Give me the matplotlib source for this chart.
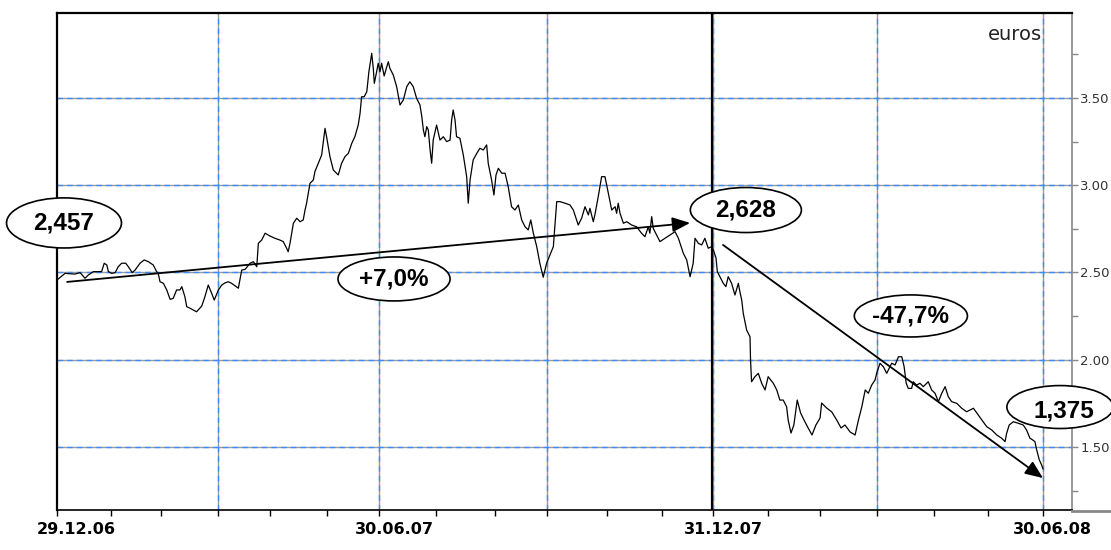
import matplotlib
matplotlib.use("Agg")
import matplotlib.pyplot as plt
import matplotlib.transforms as mtransforms
from matplotlib.patches import Ellipse
from matplotlib.lines import Line2D

# share price in euros, x = trading sessions counted from 29.12.06
sessions = [
    0, 3.1, 6.9, 8.9, 10.8, 12.1, 14.0, 15.3, 17.2, 18.2, 19.2, 19.8, 21.1, 22.4,
    23.6, 24.9, 26.5, 27.5, 29.0, 30.1, 32.0, 33.6, 35.2, 37.1, 38.4, 39.0, 39.7,
    41.0, 42.3, 43.6, 44.8, 46.1, 47.4, 48.1, 49.3, 50.0, 51.3, 52.5, 53.8, 55.8,
    57.0, 58.3, 59.6, 60.6, 62.2, 63.5, 64.7, 66.0,
    67.3, 69.9, 71.2, 72.5, 74.4, 75.7, 77.0, 77.6, 78.9, 80.2, 82.1, 84.0, 85.9,
    87.2, 88.5, 89.1, 89.8, 91.1, 92.4, 93.7, 94.9, 95.6, 96.2, 97.5, 98.8, 99.4,
    100.7, 102.0, 103.3, 103.9, 105.2, 106.5, 108.4, 109.7, 111.0, 112.3, 113.6,
    114.8, 116.1, 116.8, 117.4, 118.4, 119.4, 120.2, 121.3, 121.9, 122.3, 123.2,
    123.8, 124.5, 125.1, 126.1, 127.1, 127.7, 128.3,
    129.6, 130.9, 132.2, 133.5, 134.8, 136.0, 137.3, 138.6, 139.9, 140.6, 141.2,
    141.8, 142.5, 143.1, 143.8, 144.4, 145.0, 146.3, 147.6, 148.9, 150.2, 151.5,
    152.1, 152.7, 153.4, 154.0, 155.3, 156.6, 157.9, 158.5, 159.2, 160.4, 161.8,
    163.0, 164.3, 165.6, 166.2, 167.5, 168.4, 169.2, 170.1, 171.4, 172.7, 173.9,
    175.2, 176.5, 177.8, 179.1, 180.4, 181.6, 182.6, 183.6, 184.9, 186.1, 187.4,
    188.7, 190.0, 191.3, 192.6,
    193.9, 195.8, 197.7, 199.0, 200.9, 202.2, 203.5, 204.8, 205.4, 206.7, 207.3,
    208.6, 209.9, 211.2, 212.5, 213.8, 215.1, 215.7, 216.3, 217.0, 218.3, 219.6,
    221.5, 223.4, 225.3, 226.6, 227.9, 228.5, 229.2, 229.8, 231.1, 232.4, 234.3,
    236.3, 238.2, 239.5, 241.4, 242.7, 244.0, 245.2, 245.9, 247.2, 248.5, 249.7,
    251.0, 252.3, 253.0,
    254.0, 254.5, 255.5, 256.8, 257.8, 258.7, 260.0, 261.3, 262.6, 263.2, 263.9,
    264.5, 265.8, 267.1, 267.3, 267.7, 269.0, 270.3, 271.6, 272.9, 274.1, 276.1,
    277.4, 278.6, 279.9, 281.2, 281.8, 282.9, 284.0, 285.3, 286.6, 287.9, 289.5,
    291.0, 292.5, 294.1, 294.7, 296.6, 298.6, 300.5, 302.2, 303.7, 305.7, 307.6,
    308.9, 310.2, 311.5, 312.7, 314.0, 315.3, 315.9, 317.2,
    318.5, 319.8, 320.4, 321.7, 323.0, 324.3, 325.6, 326.5, 327.3, 328.1, 329.4,
    330.0, 331.3, 332.6, 333.9, 335.8, 337.1, 338.4, 339.7, 341.0, 342.3, 343.5,
    344.8, 346.8, 348.7, 350.6, 351.9, 353.2, 355.1, 357.0, 358.3, 360.3, 362.2,
    364.1, 365.4, 366.0, 367.0, 368.6, 370.5, 372.4, 373.7, 375.0, 376.1, 376.9,
    377.6, 378.6, 379.5, 380.0,
]
price = [
    2.457, 2.495, 2.491, 2.499, 2.467, 2.486, 2.505, 2.505, 2.505, 2.553, 2.543,
    2.505, 2.495, 2.499, 2.533, 2.553, 2.553, 2.533, 2.499, 2.514, 2.553, 2.572,
    2.562, 2.543, 2.505, 2.495, 2.447, 2.438, 2.400, 2.346, 2.352, 2.400, 2.400,
    2.419, 2.361, 2.304, 2.295, 2.285, 2.275, 2.308, 2.361, 2.428, 2.381, 2.342,
    2.400, 2.428, 2.440, 2.447,
    2.438, 2.410, 2.514, 2.518, 2.553, 2.562, 2.533, 2.667, 2.686, 2.725, 2.709,
    2.696, 2.686, 2.677, 2.639, 2.619, 2.667, 2.782, 2.811, 2.791, 2.801, 2.858,
    2.897, 3.011, 3.030, 3.078, 3.126, 3.173, 3.326, 3.278, 3.164, 3.087, 3.059,
    3.126, 3.164, 3.183, 3.240, 3.278, 3.345, 3.412, 3.507, 3.507, 3.536, 3.649,
    3.756, 3.670, 3.584, 3.651, 3.699, 3.651, 3.699, 3.626, 3.679, 3.708, 3.670,
    3.632, 3.565, 3.460, 3.489, 3.565, 3.593, 3.565, 3.498, 3.460, 3.393, 3.317,
    3.278, 3.336, 3.317, 3.202, 3.126, 3.259, 3.345, 3.259, 3.278, 3.250, 3.259,
    3.374, 3.431, 3.374, 3.278, 3.269, 3.173, 3.049, 2.897, 3.030, 3.145, 3.183,
    3.212, 3.202, 3.231, 3.126, 3.030, 2.944, 3.059, 3.097, 3.069, 3.069, 2.992,
    2.877, 2.858, 2.887, 2.801, 2.762, 2.744, 2.801, 2.725, 2.648, 2.553, 2.473,
    2.553, 2.600, 2.648, 2.906,
    2.906, 2.897, 2.887, 2.858, 2.772, 2.811, 2.877, 2.830, 2.868, 2.791, 2.830,
    2.934, 3.049, 3.049, 2.954, 2.858, 2.877, 2.839, 2.897, 2.839, 2.782, 2.791,
    2.772, 2.762, 2.725, 2.705, 2.762, 2.725, 2.820, 2.753, 2.715, 2.677, 2.696,
    2.715, 2.734, 2.696, 2.610, 2.572, 2.476, 2.553, 2.696, 2.667, 2.658, 2.696,
    2.639, 2.648, 2.628,
    2.583, 2.505, 2.476, 2.438, 2.419, 2.476, 2.438, 2.371, 2.438, 2.390, 2.342,
    2.266, 2.170, 2.132, 1.999, 1.874, 1.903, 1.922, 1.865, 1.827, 1.903, 1.865,
    1.827, 1.769, 1.769, 1.731, 1.655, 1.580, 1.626, 1.769, 1.695, 1.655, 1.609,
    1.569, 1.626, 1.666, 1.752, 1.724, 1.701, 1.655, 1.609, 1.626, 1.586, 1.569,
    1.655, 1.731, 1.827, 1.808, 1.855, 1.884, 1.922, 1.980,
    1.960, 1.922, 1.941, 1.980, 1.970, 2.017, 2.017, 1.960, 1.865, 1.836, 1.836,
    1.874, 1.855, 1.865, 1.846, 1.874, 1.827, 1.808, 1.760, 1.808, 1.846, 1.789,
    1.760, 1.750, 1.722, 1.702, 1.712, 1.722, 1.683, 1.645, 1.617, 1.597, 1.569,
    1.550, 1.531, 1.578, 1.626, 1.645, 1.636, 1.626, 1.597, 1.550, 1.540, 1.531,
    1.483, 1.426, 1.397, 1.375,
]

quarter_ends = [62, 124, 189, 253, 316, 380]
month_ends = [0, 21, 40, 62, 82, 104, 124, 146, 169, 189, 212, 233, 253,
              274, 294, 316, 338, 359, 380]
date_labels = ["29.12.06", "30.06.07", "31.12.07", "30.06.08"]
date_label_pos = [0, 124, 253, 380]
price_ticks = [1.5, 2.0, 2.5, 3.0, 3.5]
price_minor = [1.25, 1.75, 2.25, 2.75, 3.25, 3.75]

start_val, year_end_val, last_val = 2.457, 2.628, 1.375
chg_2007 = (year_end_val / start_val - 1) * 100
chg_2008 = (last_val / year_end_val - 1) * 100


def fmt_num(v, nd=3):
    return f"{v:.{nd}f}".replace(".", ",")


def fmt_pct(v):
    return f"{v:+.1f}%".replace(".", ",")


fig = plt.figure(figsize=(11.11, 5.5), dpi=100)
ax = fig.add_axes([57 / 1111, 40 / 550, 1015 / 1111, 497 / 550])
ax.set_xlim(0, 391.2)
ax.set_ylim(1.139, 3.987)

# grid: grey line with blue dashes on top
for y in price_ticks:
    ax.axhline(y, color="#9a9a9a", lw=1, zorder=1)
    ax.axhline(y, color="#3d8cff", lw=1, ls=(0, (4, 3)), zorder=1.1)
for x in quarter_ends:
    ax.axvline(x, color="#9a9a9a", lw=1, zorder=1)
    ax.axvline(x, color="#3d8cff", lw=1, ls=(0, (4, 3)), zorder=1.1)
ax.axvline(252.3, color="black", lw=1.6, zorder=2)

ax.plot(sessions, price, color="black", lw=0.9, zorder=3)

# trend arrows
arrow_kw = dict(arrowstyle="-|>,head_length=0.6,head_width=0.25",
                mutation_scale=18, lw=1.3, color="black",
                shrinkA=0, shrinkB=0)
ax.annotate("", xy=(244.0, 2.784), xytext=(3.9, 2.446),
            arrowprops=arrow_kw, zorder=4)
ax.annotate("", xy=(380.0, 1.322), xytext=(256.7, 2.658),
            arrowprops=arrow_kw, zorder=4)

# value / change bubbles
bubbles = [
    (fmt_num(start_val), 2.7, 2.784, 44.3, 0.287, 0, 0),
    (fmt_pct(chg_2007), 129.9, 2.463, 43.2, 0.252, 0, 0),
    (fmt_num(year_end_val), 265.5, 2.858, 42.8, 0.258, 0, 0),
    (fmt_pct(chg_2008), 329.1, 2.251, 43.6, 0.241, 0, 0),
    (fmt_num(last_val), 386.6, 1.729, 41.0, 0.246, 1.5, -0.02),
]
for txt, cx, cy, w, h, dx, dy in bubbles:
    ax.add_patch(Ellipse((cx, cy), w, h, facecolor="white", edgecolor="black",
                         lw=1.2, zorder=5, clip_on=False))
    ax.text(cx + dx, cy + dy, txt, ha="center", va="center", fontsize=17.5,
            fontweight="bold", family="Liberation Sans", zorder=6,
            clip_on=False)

ax.text(0.970, 0.956, "euros", transform=ax.transAxes, ha="right",
        va="center", fontsize=14, color="#222222")

# axes frame
for side in ["left", "top"]:
    ax.spines[side].set_color("black")
    ax.spines[side].set_linewidth(1.6)
ax.spines["bottom"].set_color("black")
ax.spines["bottom"].set_linewidth(1.2)
ax.spines["right"].set_color("#888888")
ax.spines["right"].set_linewidth(1.2)

ax.yaxis.tick_right()
ax.set_yticks(price_ticks)
ax.set_yticks(price_minor, minor=True)
ax.set_yticklabels([f"{v:.2f}" for v in price_ticks])
ax.tick_params(axis="y", which="both", direction="out", length=4,
               color="#888888", width=1, labelsize=9.5, labelcolor="#333333",
               pad=2)
ax.set_xticks(month_ends)
ax.set_xticklabels([])
ax.tick_params(axis="x", which="both", direction="out", length=4,
               color="black", width=1)

label_shift = [13.7, 11.5, 7.2, 6.5]
base = mtransforms.blended_transform_factory(ax.transData, ax.transAxes)
for lab, pos, sh in zip(date_labels, date_label_pos, label_shift):
    tr = mtransforms.offset_copy(base, fig=fig, x=sh, y=-14.4, units="points")
    ax.text(pos, 0, lab, transform=tr, ha="center", va="center",
            fontsize=11.5, fontweight="bold", clip_on=False)

fig.add_artist(Line2D([1072 / 1111, 1.0], [39 / 550, 39 / 550],
                      color="#888888", lw=2))

fig.savefig("out.png", dpi=100)
